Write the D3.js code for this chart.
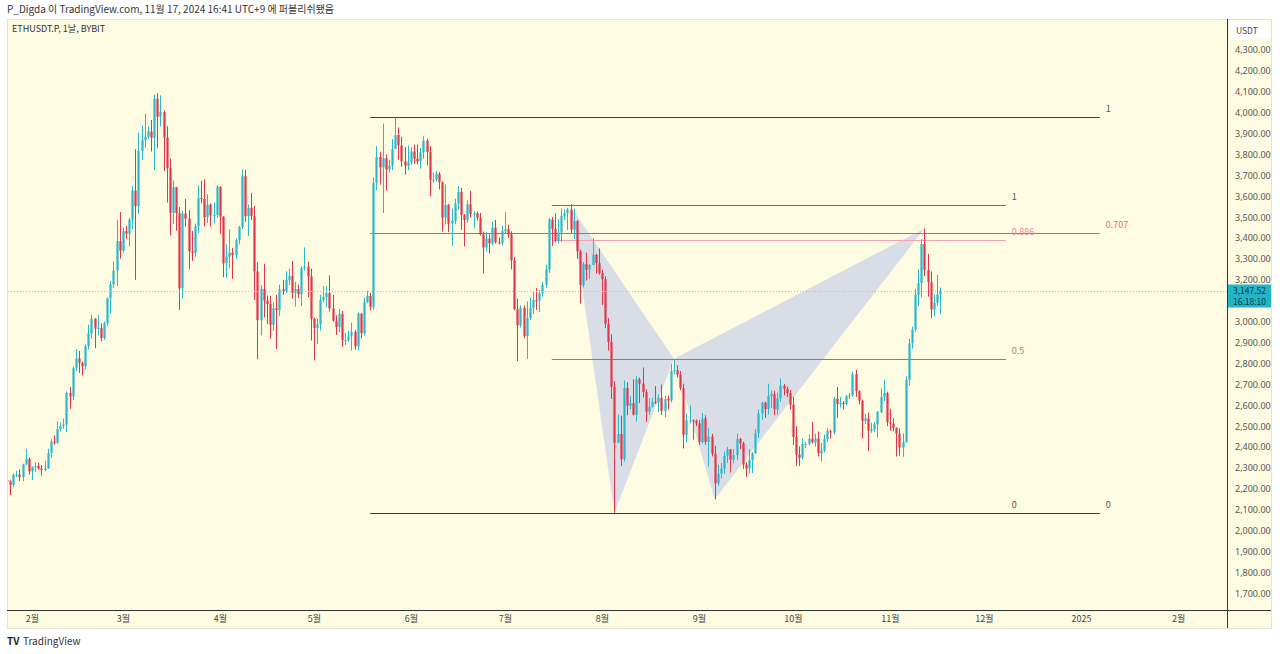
<!DOCTYPE html>
<html>
<head>
<meta charset="utf-8">
<script src="https://cdn.jsdelivr.net/npm/d3@7"></script>
<style>
  body { margin: 0; background: #fff; font-family: "Noto Sans CJK KR", "Noto Sans", sans-serif; }
  text { font-family: "Noto Sans CJK KR", "Noto Sans", sans-serif; }
</style>
</head>
<body>
<script>
// daily candles, ETHUSDT.P BYBIT, [open, high, low, close]
const jan24 = [
  [2241,2262,2195,2235],[2235,2243,2170,2218],[2218,2274,2207,2267],[2267,2286,2255,2268],
  [2268,2293,2236,2257],[2257,2320,2237,2317],[2317,2392,2313,2343],[2343,2350,2268,2283]
];
const feb24 = [
  [2283,2308,2243,2304],[2304,2327,2282,2309],[2309,2326,2292,2297],[2297,2314,2264,2290],
  [2290,2335,2283,2298],[2298,2391,2296,2372],[2372,2437,2349,2425],[2425,2456,2411,2421],
  [2421,2522,2415,2486],[2486,2517,2474,2500],[2500,2536,2487,2507],[2507,2666,2471,2659],
  [2659,2688,2583,2642],[2642,2785,2624,2777],[2777,2868,2763,2824],[2824,2860,2754,2803],
  [2803,2808,2742,2786],[2786,2891,2771,2882],[2882,2985,2867,2944],[2944,3034,2918,3014],
  [3014,3017,2873,2967],[2967,3032,2934,2970],[2970,2992,2906,2922],[2922,3000,2912,2992],
  [2992,3116,2980,3112],[3112,3195,3039,3178],[3178,3288,3162,3244],[3244,3488,3171,3385],
  [3385,3524,3301,3340]
];
const mar24 = [
  [3340,3450,3330,3433],[3433,3459,3396,3421],[3421,3497,3360,3488],[3488,3650,3442,3627],
  [3627,3825,3200,3553],[3553,3905,3516,3817],[3817,3938,3774,3868],[3868,3995,3834,3885],
  [3885,3935,3874,3910],[3910,3965,3814,3880],[3880,4087,3725,4066],[4066,4093,3832,3980],
  [3980,4083,3935,4003],[4003,4011,3720,3881],[3881,3935,3570,3735],[3735,3781,3412,3521],
  [3521,3676,3466,3644],[3644,3645,3435,3519],[3519,3548,3056,3159],[3159,3529,3111,3517],
  [3517,3587,3455,3493],[3493,3534,3250,3336],[3336,3434,3290,3329],[3329,3469,3311,3456],
  [3456,3653,3424,3591],[3591,3674,3566,3587],[3587,3681,3456,3500],[3500,3610,3472,3560],
  [3560,3566,3456,3508],[3508,3571,3471,3511],[3511,3654,3497,3645]
];
const apr24 = [
  [3645,3648,3420,3503],[3503,3504,3212,3279],[3279,3370,3209,3311],[3311,3443,3255,3330],
  [3330,3352,3205,3318],[3318,3398,3300,3390],[3390,3458,3370,3453],[3453,3729,3443,3696],
  [3696,3727,3478,3505],[3505,3560,3410,3545],[3545,3616,3487,3505],[3505,3554,3103,3240],
  [3240,3285,2820,3007],[3007,3174,2935,3157],[3157,3277,3020,3101],[3101,3125,2988,3084],
  [3084,3123,2919,2985],[2985,3093,2956,3064],[3064,3129,2870,3056],[3056,3177,3028,3155],
  [3155,3200,3129,3147],[3147,3241,3137,3200],[3200,3254,3175,3219],[3219,3291,3110,3138],
  [3138,3190,3072,3156],[3156,3177,3113,3131],[3131,3265,3074,3255],[3255,3355,3245,3263],
  [3263,3287,3117,3216],[3216,3253,2910,3014]
];
const may24 = [
  [3014,3020,2815,2970],[2970,3016,2892,2988],[2988,3129,2958,3103],[3103,3170,3093,3118],
  [3118,3170,3070,3137],[3137,3221,3048,3063],[3063,3128,3000,3005],[3005,3030,2937,2974],
  [2974,3059,2951,3037],[3037,3051,2880,2912],[2912,2945,2888,2912],[2912,2957,2903,2930],
  [2930,2995,2862,2951],[2951,2961,2865,2882],[2882,3045,2863,3038],[3038,3042,2920,2945],
  [2945,3115,2934,3093],[3093,3147,3089,3123],[3123,3138,3054,3071],[3071,3690,3058,3663],
  [3663,3840,3630,3788],[3788,3813,3656,3738],[3738,3948,3520,3782],[3782,3800,3627,3728],
  [3728,3774,3713,3747],[3747,3874,3725,3826],[3826,3977,3826,3893],[3893,3929,3775,3844],
  [3844,3885,3741,3767],[3767,3835,3703,3747],[3747,3843,3725,3762]
];
const jun24 = [
  [3762,3834,3752,3814],[3814,3847,3755,3780],[3780,3848,3752,3767],[3767,3831,3732,3810],
  [3810,3887,3780,3866],[3866,3876,3747,3812],[3812,3840,3600,3679],[3679,3712,3665,3680],
  [3680,3720,3670,3707],[3707,3716,3632,3666],[3666,3672,3430,3498],[3498,3657,3465,3559],
  [3559,3563,3428,3469],[3469,3540,3362,3482],[3482,3588,3466,3565],[3565,3648,3537,3620],
  [3620,3640,3440,3511],[3511,3515,3360,3486],[3486,3581,3473,3561],[3561,3626,3498,3515],
  [3515,3528,3449,3519],[3519,3525,3484,3497],[3497,3520,3413,3417],[3417,3431,3230,3355],
  [3355,3430,3337,3397],[3397,3418,3326,3375],[3375,3479,3365,3450],[3450,3487,3374,3380],
  [3380,3401,3369,3377],[3377,3458,3366,3433]
];
const jul24 = [
  [3433,3524,3421,3442],[3442,3464,3401,3418],[3418,3432,3250,3293],[3293,3308,3055,3060],
  [3060,3110,2811,2983],[2983,3078,2972,3066],[3066,3078,2920,2931],[2931,3097,2822,3017],
  [3017,3115,3007,3067],[3067,3142,3036,3104],[3104,3160,3056,3101],[3101,3151,3046,3136],
  [3136,3190,3120,3176],[3176,3272,3163,3250],[3250,3495,3233,3489],[3489,3501,3362,3444],
  [3444,3518,3380,3388],[3388,3490,3374,3426],[3426,3541,3382,3507],[3507,3538,3487,3518],
  [3518,3545,3438,3535],[3535,3562,3423,3440],[3440,3541,3396,3481],[3481,3486,3301,3336],
  [3336,3345,3087,3174],[3174,3285,3164,3275],[3275,3330,3197,3249],[3249,3275,3205,3271],
  [3271,3400,3270,3320],[3320,3325,3230,3280],[3280,3350,3225,3232]
];
const aug24 = [
  [3232,3247,3080,3203],[3203,3218,2970,2989],[2989,3017,2862,2903],[2903,2939,2630,2688],
  [2688,2715,2085,2420],[2420,2555,2420,2462],[2462,2550,2310,2342],[2342,2718,2330,2682],
  [2682,2710,2552,2598],[2598,2643,2580,2610],[2610,2724,2551,2555],[2555,2740,2522,2724],
  [2724,2733,2610,2703],[2703,2781,2637,2663],[2663,2676,2521,2569],[2569,2634,2554,2592],
  [2592,2635,2588,2615],[2615,2692,2606,2612],[2612,2652,2567,2636],[2636,2699,2554,2573],
  [2573,2645,2542,2630],[2630,2646,2580,2623],[2623,2797,2614,2763],[2763,2820,2748,2768],
  [2768,2792,2733,2746],[2746,2764,2672,2682],[2682,2703,2393,2458],[2458,2560,2422,2528],
  [2528,2598,2513,2528],[2528,2531,2435,2526],[2526,2532,2500,2513]
];
const sep24 = [
  [2513,2529,2410,2425],[2425,2563,2417,2537],[2537,2552,2411,2425],[2425,2490,2307,2450],
  [2450,2463,2355,2368],[2368,2406,2150,2226],[2226,2314,2214,2272],[2272,2324,2250,2297],
  [2297,2378,2272,2359],[2359,2400,2323,2389],[2389,2391,2278,2340],[2340,2389,2321,2361],
  [2361,2464,2337,2438],[2438,2444,2390,2418],[2418,2425,2295,2316],[2316,2327,2257,2297],
  [2297,2390,2273,2338],[2338,2375,2275,2370],[2370,2486,2368,2466],[2466,2579,2444,2562],
  [2562,2615,2530,2612],[2612,2617,2539,2582],[2582,2703,2556,2644],[2644,2672,2588,2653],
  [2653,2670,2553,2580],[2580,2660,2555,2633],[2633,2728,2617,2694],[2694,2702,2647,2678],
  [2678,2690,2638,2658],[2658,2673,2580,2602]
];
const oct24 = [
  [2602,2640,2410,2448],[2448,2500,2310,2364],[2364,2403,2310,2349],[2349,2441,2340,2414],
  [2414,2425,2395,2415],[2415,2460,2408,2440],[2440,2520,2417,2423],[2423,2464,2402,2440],
  [2440,2474,2355,2370],[2370,2420,2330,2384],[2384,2460,2374,2438],[2438,2490,2426,2476],
  [2476,2484,2440,2469],[2469,2640,2460,2631],[2631,2687,2540,2606],[2606,2640,2590,2611],
  [2611,2620,2580,2605],[2605,2650,2600,2643],[2643,2658,2630,2648],[2648,2760,2640,2748],
  [2748,2769,2640,2667],[2667,2672,2604,2621],[2621,2627,2441,2525],[2525,2560,2510,2537],
  [2537,2566,2380,2478],[2478,2516,2468,2486],[2486,2520,2470,2509],[2509,2572,2444,2568],
  [2568,2680,2562,2639],[2639,2722,2620,2658],[2658,2665,2500,2519]
];
const nov24 = [
  [2519,2583,2478,2512],[2512,2538,2475,2491],[2491,2495,2355,2464],[2464,2490,2358,2398],
  [2398,2466,2353,2423],[2423,2738,2422,2722],[2722,2918,2695,2896],[2896,2976,2870,2963],
  [2963,3157,2952,3128],[3128,3250,3076,3185],[3185,3395,3117,3371],[3371,3446,3218,3247],
  [3247,3325,3120,3188],[3188,3240,3018,3058],[3058,3129,3026,3091],[3091,3224,3075,3131],
  [3131,3163,3035,3147.52]
];
// [year, month index, first day, candles]
const months = [
  [2024,0,24,jan24],[2024,1,1,feb24],[2024,2,1,mar24],[2024,3,1,apr24],
  [2024,4,1,may24],[2024,5,1,jun24],[2024,6,1,jul24],[2024,7,1,aug24],
  [2024,8,1,sep24],[2024,9,1,oct24],[2024,10,1,nov24]
];

const priceTicks = d3.range(1700, 4301, 100);
const lastPrice = 3147.52;
const countdown = "16:18:10";

// fib retracements: [start date, end date, price at 1, price at 0, levels]
const fibA = ["2024-05-19", "2025-01-07", 3979, 2085, [1, 0.707, 0]];
const fibB = ["2024-07-16", "2024-12-08", 3558, 2085, [1, 0.886, 0.5, 0]];

// harmonic pattern X, A, B, C, D
const patternPts = [
  ["2024-07-22", 3552], ["2024-08-05", 2085], ["2024-08-24", 2822],
  ["2024-09-06", 2150], ["2024-11-12", 3446]
];

// build candle list
let candles = [];
months.forEach(m => {
  m[3].forEach((c, i) => {
    candles.push({date: new Date(Date.UTC(m[0], m[1], m[2] + i)), o: c[0], h: c[1], l: c[2], c: c[3]});
  });
});

const W = 1280, H = 654;
const paneL = 8, paneR = 1227, paneT = 20, paneB = 610;

const svg = d3.select("body").append("svg").attr("width", W).attr("height", H);

const x = d3.scaleUtc()
  .domain([new Date(Date.UTC(2024,1,1)), new Date(Date.UTC(2025,0,1))])
  .range([32, 1081]);
const y = d3.scaleLinear().domain([1700, 4300]).range([593.3, 50]);

const parse = d3.utcParse("%Y-%m-%d");

// header
svg.append("text").attr("x", 7).attr("y", 13)
  .attr("font-size", 10).attr("fill", "#333")
  .text("P_Digda 이 TradingView.com, 11월 17, 2024 16:41 UTC+9 에 퍼블리쉬됐음");

// pane background
svg.append("rect").attr("x", 7.5).attr("y", 19.5).attr("width", 1264).attr("height", 609)
  .attr("fill", "#fefbe3").attr("stroke", "#e4e2d4");

svg.append("defs").append("clipPath").attr("id", "pane")
  .append("rect").attr("x", paneL).attr("y", paneT).attr("width", paneR - paneL).attr("height", paneB - paneT);

const plot = svg.append("g").attr("clip-path", "url(#pane)");

// harmonic triangles
const pp = patternPts.map(p => [x(parse(p[0])), y(p[1])]);
plot.append("path")
  .attr("d", "M" + pp[0] + "L" + pp[1] + "L" + pp[2] + "Z")
  .attr("fill", "#d9dde6");
plot.append("path")
  .attr("d", "M" + pp[2] + "L" + pp[3] + "L" + pp[4] + "Z")
  .attr("fill", "#d9dde6");

// fib lines
const levelColor = {"1": "#3c3c34", "0": "#3c3c34", "0.707": "#e0566b", "0.886": "#f2a3b1", "0.5": "#3fa56c"};
const labelColor = {"1": "#555", "0": "#555", "0.707": "#e06d80", "0.886": "#e88a9a", "0.5": "#8a8a80"};
function drawFib(f, topColor) {
  const x0 = x(parse(f[0])), x1 = x(parse(f[1]));
  f[4].forEach(lv => {
    const py = Math.round(y(f[3] + lv * (f[2] - f[3]))) + 0.5;
    const key = String(lv);
    plot.append("line").attr("x1", x0).attr("x2", x1).attr("y1", py).attr("y2", py)
      .attr("stroke", (topColor && lv === 1) ? topColor : levelColor[key])
      .attr("stroke-width", 1);
    svg.append("text").attr("x", x1 + 6).attr("y", py - 6)
      .attr("font-size", 9).attr("fill", labelColor[key]).text(key);
  });
}
drawFib(fibA);
drawFib(fibB, "#6f6f60");

// candles
const upCol = "#2ab8ca", downCol = "#e3364d";
const bw = 2.2;
const cg = plot.append("g");
cg.selectAll("line.wick").data(candles).enter().append("line")
  .attr("class", "wick")
  .attr("x1", d => Math.round(x(d.date)) + 0.5).attr("x2", d => Math.round(x(d.date)) + 0.5)
  .attr("y1", d => y(d.h)).attr("y2", d => y(d.l))
  .attr("stroke", d => d.c >= d.o ? upCol : downCol).attr("stroke-width", 1);
cg.selectAll("rect").data(candles).enter().append("rect")
  .attr("x", d => Math.round(x(d.date)) + 0.5 - bw / 2)
  .attr("y", d => y(Math.max(d.o, d.c)))
  .attr("width", bw)
  .attr("height", d => Math.max(1, Math.abs(y(d.o) - y(d.c))))
  .attr("fill", d => d.c >= d.o ? upCol : downCol);

// last price dotted line
const lpY = Math.round(y(lastPrice)) + 0.5;
plot.append("line").attr("x1", paneL).attr("x2", paneR).attr("y1", lpY).attr("y2", lpY)
  .attr("stroke", "#8fd3da").attr("stroke-width", 1).attr("stroke-dasharray", "1,2");

// axis separators
svg.append("line").attr("x1", paneR + 0.5).attr("x2", paneR + 0.5).attr("y1", 19).attr("y2", 628)
  .attr("stroke", "#333").attr("stroke-width", 1);
svg.append("line").attr("x1", 7).attr("x2", 1271).attr("y1", paneB + 0.5).attr("y2", paneB + 0.5)
  .attr("stroke", "#333").attr("stroke-width", 1);

// price axis (ticks hidden under the last price label are dropped)
const boxTop = lpY - 7, boxBot = lpY + 16;
const shownTicks = priceTicks.filter(t => y(t) + 3 < boxTop || y(t) - 3 > boxBot);
const yAxis = svg.append("g").attr("transform", "translate(" + (paneR + 4) + ",0)")
  .call(d3.axisRight(y).tickValues(shownTicks).tickSize(0).tickFormat(d3.format(",.2f")));
yAxis.select(".domain").remove();
yAxis.selectAll("text").attr("font-size", 9).attr("fill", "#555")
  .style("font-family", "'Noto Sans', sans-serif").attr("x", 4);

// USDT box
svg.append("rect").attr("x", 1230).attr("y", 21).attr("width", 40).attr("height", 18)
  .attr("fill", "#fff").attr("rx", 2);
svg.append("text").attr("x", 1236).attr("y", 33.5).attr("font-size", 8.5).attr("fill", "#444").text("USDT");

// last price label
svg.append("rect").attr("x", paneR + 1).attr("y", boxTop).attr("width", 43).attr("height", boxBot - boxTop)
  .attr("fill", "#22b5c8");
svg.append("text").attr("x", 1233).attr("y", lpY + 2.5).attr("font-size", 8.5).attr("fill", "#0c3740")
  .text(d3.format(",.2f")(lastPrice));
svg.append("text").attr("x", 1233).attr("y", lpY + 13.5).attr("font-size", 8.5).attr("fill", "#0c3740")
  .text(countdown);

// time axis
const monthTicks = d3.utcMonths(new Date(Date.UTC(2024,1,1)), new Date(Date.UTC(2025,1,2)));
const xAxis = svg.append("g").attr("transform", "translate(0," + (paneB + 1) + ")")
  .call(d3.axisBottom(x).tickValues(monthTicks).tickSize(0)
    .tickFormat(d => d.getUTCMonth() === 0 ? String(d.getUTCFullYear()) : (d.getUTCMonth() + 1) + "월"));
xAxis.select(".domain").remove();
xAxis.selectAll("text").attr("font-size", 9).attr("fill", "#444").attr("dy", "0.9em");

// title
svg.append("text").attr("x", 12).attr("y", 32).attr("font-size", 9).attr("fill", "#333")
  .text("ETHUSDT.P, 1날, BYBIT");

// footer logo
svg.append("text").attr("x", 7).attr("y", 645).attr("font-size", 10).attr("font-weight", "bold")
  .attr("fill", "#222").text("TV");
svg.append("text").attr("x", 23).attr("y", 645).attr("font-size", 10).attr("fill", "#333")
  .text("TradingView");
</script>
</body>
</html>
